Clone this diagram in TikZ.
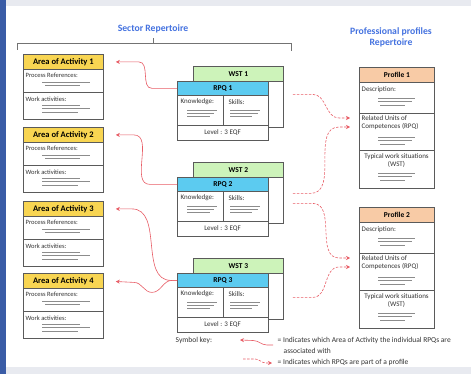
\documentclass[tikz,border=0pt]{standalone}
\usepackage{fontspec}
\setmainfont{Carlito}
\usetikzlibrary{arrows.meta,shadows}
\definecolor{areac}{HTML}{F8D552}
\definecolor{wstc}{HTML}{CDF3BA}
\definecolor{rpqc}{HTML}{5CCBF0}
\definecolor{profc}{HTML}{F8CBA6}
\definecolor{titlec}{HTML}{4472E0}
\definecolor{boxc}{HTML}{5A5A5A}
\definecolor{phc}{HTML}{8C8C8C}
\definecolor{redc}{HTML}{E4404B}
\definecolor{barc}{HTML}{3A5CA6}
\definecolor{framec}{HTML}{E8EAF0}
\newcommand\hdrfont{\bfseries\fontsize{8.5}{9}\selectfont}
\newcommand\subhdrfont{\bfseries\fontsize{7.5}{8}\selectfont}
\newcommand\areatxt{\fontsize{6.5}{7}\selectfont}
\newcommand\rpqtxt{\fontsize{7}{8}\selectfont}
\newcommand\proftxt{\fontsize{7}{8}\selectfont}
\newcommand\AreaBox[2]{%
 \node[box, shadowed, minimum width=80pt, minimum height=65pt] (a#1) at (23,#2) {};
 \node[box, fill=areac, minimum width=80pt, minimum height=15pt, font=\hdrfont] (a#1h) at (23,#2) {Area of Activity #1};
 \draw[boxline] (23,#2+38) -- (103,#2+38);
 \node[small, font=\areatxt] (a#1p) at (25,#2+21) {Process References:};
 \draw[ph] (42,#2+28) -- (90,#2+28);
 \draw[ph] (45,#2+31.5) -- (80,#2+31.5);
 \node[small, font=\areatxt] (a#1w) at (25,#2+45) {Work activities:};
 \draw[ph] (42,#2+51) -- (80,#2+51);
 \draw[ph] (42,#2+54.5) -- (90,#2+54.5);
 \draw[ph] (42,#2+58) -- (78,#2+58);
}
\newcommand\RpqGroup[2]{%
 \node[box, shadowed, minimum width=90pt, minimum height=61pt] (w#1) at (193,#2) {};
 \node[box, fill=wstc, minimum width=90pt, minimum height=15pt, font=\subhdrfont] (w#1h) at (193,#2) {WST #1};
 \node[box, shadowed, minimum width=91pt, minimum height=59pt] (r#1) at (177,#2+15) {};
 \node[box, fill=rpqc, minimum width=91pt, minimum height=14pt, font=\subhdrfont] (r#1h) at (177,#2+15) {RPQ #1};
 \draw[boxline] (223,#2+29) -- (223,#2+59);
 \draw[boxline] (177,#2+59) -- (268,#2+59);
 \node[small, font=\rpqtxt] (r#1k) at (180,#2+36) {Knowledge:};
 \node[small, font=\rpqtxt] (r#1s) at (228,#2+36) {Skills:};
 \draw[ph] (187,#2+44) -- (217,#2+44);
 \draw[ph] (187,#2+47) -- (214,#2+47);
 \draw[ph] (187,#2+50) -- (210,#2+50);
 \draw[ph] (230,#2+44) -- (260,#2+44);
 \draw[ph] (230,#2+47) -- (258,#2+47);
 \draw[ph] (230,#2+50) -- (252,#2+50);
 \node[small, font=\rpqtxt, anchor=center] (r#1l) at (222.5,#2+67) {Level : 3 EQF};
}
\newcommand\ProfBox[2]{%
 \node[box, shadowed, minimum width=75pt, minimum height=121pt] (p#1) at (359,#2) {};
 \node[box, fill=profc, minimum width=75pt, minimum height=15pt, font=\subhdrfont] (p#1h) at (359,#2) {Profile #1};
 \draw[boxline] (359,#2+46) -- (434,#2+46);
 \draw[boxline] (359,#2+83) -- (434,#2+83);
 \node[small, font=\proftxt] (p#1d) at (361,#2+23) {Description:};
 \draw[ph] (378,#2+31) -- (415,#2+31);
 \draw[ph] (378,#2+34.5) -- (412,#2+34.5);
 \draw[ph] (380,#2+38) -- (405,#2+38);
 \node[small, font=\proftxt] (p#1r) at (361,#2+51) {Related Units of};
 \node[small, font=\proftxt] (p#1c) at (361,#2+60) {Competences (RPQ)};
 \draw[ph] (378,#2+70) -- (415,#2+70);
 \draw[ph] (378,#2+73.5) -- (412,#2+73.5);
 \draw[ph] (380,#2+77) -- (405,#2+77);
 \node[small, font=\proftxt, anchor=center] (p#1t) at (396.5,#2+90) {Typical work situations};
 \node[small, font=\proftxt, anchor=center] (p#1s) at (396.5,#2+97) {(WST)};
 \draw[ph] (378,#2+106) -- (415,#2+106);
 \draw[ph] (378,#2+109.5) -- (412,#2+109.5);
 \draw[ph] (380,#2+113) -- (405,#2+113);
}
\begin{document}
\begin{tikzpicture}[x=1pt,y=-1pt,
  box/.style={draw=boxc, line width=0.8pt, inner sep=0pt, anchor=north west, fill=white},
  shadowed/.style={drop shadow={shadow xshift=1pt, shadow yshift=-1pt, fill=black!30, opacity=0.6}},
  boxline/.style={draw=boxc, line width=0.8pt},
  small/.style={text=black!80, inner sep=0.5pt, anchor=west},
  ph/.style={draw=phc, line width=0.7pt},
  title/.style={font=\bfseries\fontsize{9.7}{11.5}\selectfont, text=titlec, align=center},
  brk/.style={draw=black!55, line width=0.5pt},
  solidarr/.style={draw=redc!85, line width=0.6pt, -{Stealth[length=4pt,width=4pt]}},
  dasharr/.style={draw=redc!85, line width=0.6pt, dash pattern=on 2.5pt off 1.5pt, -{Stealth[length=4pt,width=4pt]}},
  legtext/.style={font=\fontsize{7.5}{8.5}\selectfont, text=black!80, inner sep=0.5pt, anchor=west}
]
\useasboundingbox (0,0) rectangle (471,374);
\fill[framec] (0,0) rectangle (471,374);
\fill[white] (6,6) rectangle (471,367);
\fill[barc] (0,0) rectangle (6,374);

% titles and bracket
\node[title] (t1) at (153,29) {Sector Repertoire};
\node[title] (t2) at (391,37.5) {Professional profiles\\Repertoire};
\draw[brk] (17,50) -- (17,43) -- (291,43) -- (291,51);
\draw[brk] (153,43) -- (153,38);

% boxes
\AreaBox{1}{54}
\AreaBox{2}{127}
\AreaBox{3}{201}
\AreaBox{4}{273}
\RpqGroup{1}{66}
\RpqGroup{2}{162}
\RpqGroup{3}{258}
\ProfBox{1}{67}
\ProfBox{2}{207}

% solid arrows RPQ -> Area
\draw[solidarr, shorten >=12pt] (r1h.west) -- ++(-25,0) to[out=180,in=0] ([xshift=35pt]a1h.east) -- (a1h.east);
\draw[solidarr, shorten >=12pt] (r2h.west) -- ++(-27,0) to[out=180,in=0] ([xshift=30pt]a2h.east) -- (a2h.east);
\draw[solidarr, shorten >=12pt] (r3h.west) -- ++(-6,0) to[out=180,in=0] ([xshift=28pt]a3h.east) -- (a3h.east);
\draw[solidarr, shorten >=12pt] (r3h.west) -- ++(-5,0) to[out=180,in=0] ++(-20,12) to[out=180,in=0] ++(-18,-10) -- (a4h.east);

% dashed arrows WST -> Profile
\draw[dasharr, shorten >=11pt] ([shift={(9,-2.5)}]w1.east) -- ++(20,0) to[out=0,in=180] ([xshift=-22pt]p1r.west) -- (p1r.west);
\draw[dasharr, shorten >=11pt] ([shift={(9,0.5)}]w2.east) -- ++(18,0) to[out=0,in=180] ([xshift=-22pt]p1c.west) -- (p1c.west);
\draw[dasharr, shorten >=11pt] ([shift={(9,10.5)}]w2.east) -- ++(20,0) to[out=0,in=180] ([xshift=-22pt]p2r.west) -- (p2r.west);
\draw[dasharr, shorten >=11pt] ([shift={(9,8.5)}]w3.east) -- ++(20,0) to[out=0,in=180] ([xshift=-22pt]p2c.west) -- (p2c.west);

% legend
\node[legtext] (key) at (175,340) {Symbol key:};
\coordinate (k1s) at (273,345);
\coordinate (k1e) at (240,340);
\draw[solidarr] (k1s) -- ++(-6,0) to[out=180,in=0] ++(-14,-4.5) -- (k1e);
\node[legtext] (l1) at (277,340) {= Indicates which Area of Activity the individual RPQs are};
\node[legtext] (l1b) at (283,351) {associated with};
\coordinate (k2s) at (243,359);
\coordinate (k2e) at (272,363);
\draw[dasharr] (k2s) -- ++(12,0) to[out=0,in=180] ([xshift=-6pt]k2e) -- (k2e);
\node[legtext] (l2) at (277,362) {= Indicates which RPQs are part of a profile};
\end{tikzpicture}
\end{document}
